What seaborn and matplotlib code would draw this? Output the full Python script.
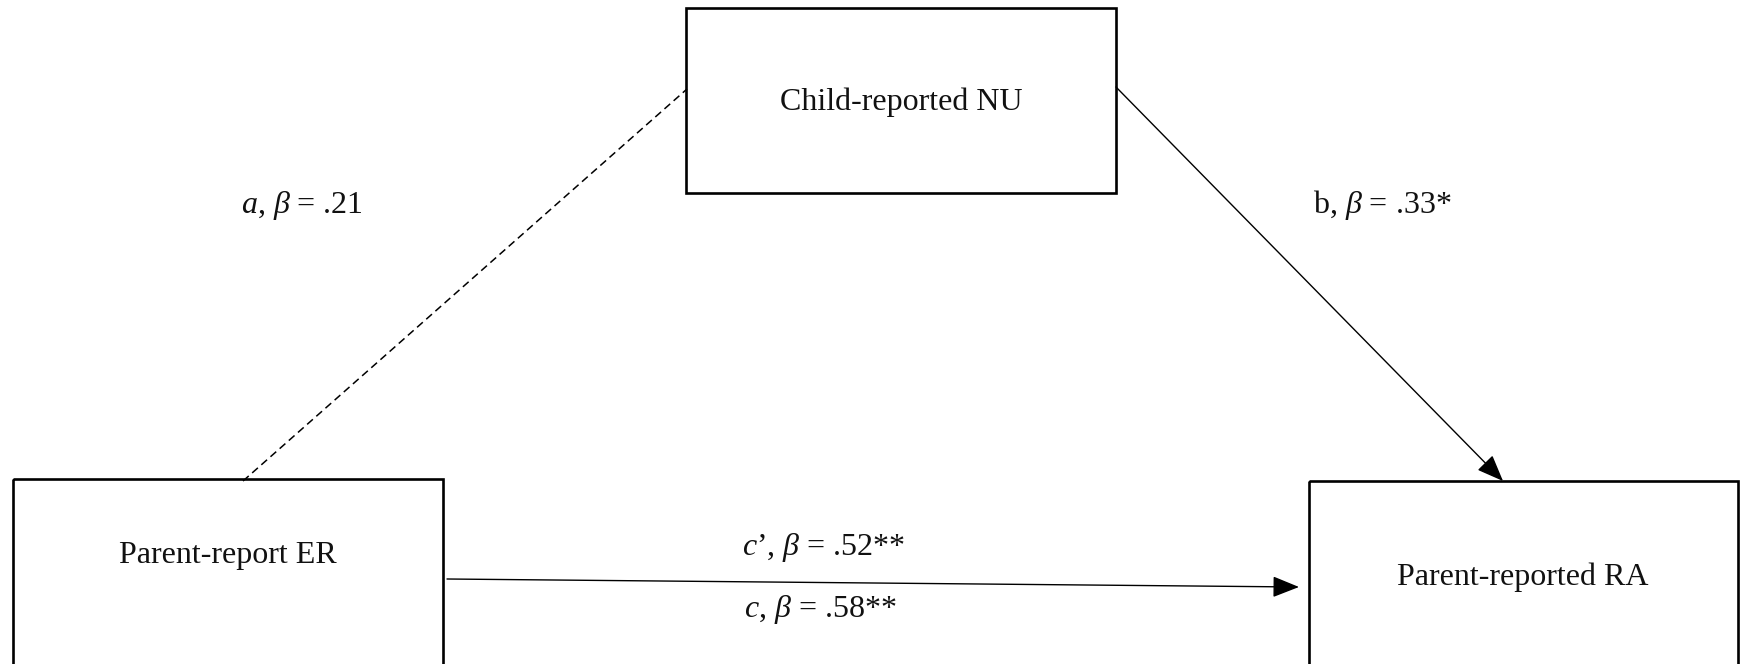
import matplotlib.pyplot as plt
import seaborn as sns
from matplotlib.patches import Rectangle

# --- DATA ---
node_labels = ["Parent-report ER", "Child-reported NU", "Parent-reported RA"]
path_names = ["$a$", "b", "$c$\u2019", "$c$"]
path_betas = [".21", ".33", ".52", ".58"]
path_stars = ["", "*", "**", "**"]

# --- LAYOUT (pixel coords, origin top-left) ---
W, H = 1745, 664
boxes = {  # x, y, w, h
    "Parent-report ER": (13, 479, 430, 260),
    "Child-reported NU": (686, 8, 430, 185),
    "Parent-reported RA": (1309, 481, 429, 260),
}
label_pos = {
    "Parent-report ER": (228, 556),
    "Child-reported NU": (901, 102),
    "Parent-reported RA": (1523, 577),
}
coef_pos = [(302, 205), (1382, 205), (824, 547), (820, 610)]

sns.set_theme(style="white")
plt.rcParams['font.family'] = ['Liberation Serif', 'DejaVu Serif']
plt.rcParams['mathtext.fontset'] = 'custom'
plt.rcParams['mathtext.rm'] = 'Liberation Serif'
plt.rcParams['mathtext.it'] = 'Liberation Serif:italic'

fig = plt.figure(figsize=(W / 100, H / 100), dpi=100)
ax = fig.add_axes([0, 0, 1, 1])
ax.set_xlim(0, W)
ax.set_ylim(H, 0)
ax.axis('off')

for name in node_labels:
    x, y, w, h = boxes[name]
    ax.add_patch(Rectangle((x, y), w, h, fill=False, lw=1.9, ec='black'))
    lx, ly = label_pos[name]
    ax.text(lx, ly, name, ha='center', va='center', fontsize=23, color='#111111')

# a path (dashed, no head)
ax.plot([243, 687], [481, 89], color='black', lw=1.1, ls=(0, (5, 3)))

arrow = dict(arrowstyle='-|>,head_length=0.75,head_width=0.3', mutation_scale=22,
             lw=1.0, color='black', shrinkA=0, shrinkB=0)
# b path
ax.annotate('', xy=(1503, 481), xytext=(1116, 87), arrowprops=arrow)
# c path
ax.annotate('', xy=(1299, 587), xytext=(447, 579), arrowprops=arrow)

for nm, b, s, (tx, ty) in zip(path_names, path_betas, path_stars, coef_pos):
    ax.text(tx, ty, f"{nm}, $\\beta$ = {b}{s}", ha='center', va='center',
            fontsize=23, color='#111111')

fig.savefig('out.png', dpi=100)
